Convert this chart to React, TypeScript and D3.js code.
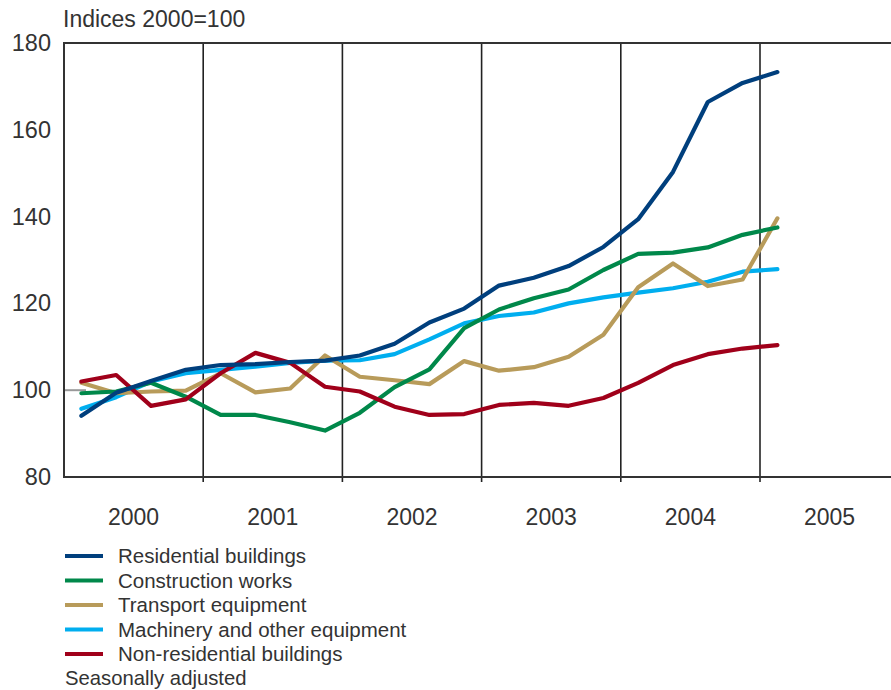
import React from "react";
import * as d3 from "d3";

const years = ["2000", "2001", "2002", "2003", "2004", "2005"];
const yTicks = [80, 100, 120, 140, 160, 180];

const residential = [94.1, 99.4, 102.1, 104.7, 105.8, 106.0, 106.5, 106.8, 108.0, 110.7, 115.6, 118.8, 124.1, 125.9, 128.6, 133.0, 139.4, 150.3, 166.4, 170.8, 173.3];
const construction = [99.3, 99.7, 101.7, 98.5, 94.3, 94.3, 92.6, 90.7, 94.8, 100.7, 104.8, 114.3, 118.6, 121.2, 123.2, 127.7, 131.4, 131.7, 132.9, 135.8, 137.5];
const transport = [101.7, 99.3, 99.7, 99.9, 103.9, 99.5, 100.4, 108.0, 103.1, 102.3, 101.4, 106.7, 104.5, 105.3, 107.7, 112.8, 123.7, 129.2, 124.0, 125.5, 139.6];
const machinery = [95.7, 98.4, 102.0, 103.9, 104.7, 105.4, 106.3, 106.8, 106.9, 108.3, 111.7, 115.4, 117.1, 117.9, 120.0, 121.4, 122.5, 123.5, 125.0, 127.3, 127.9];
const nonResidential = [102.0, 103.5, 96.4, 97.9, 103.9, 108.6, 106.3, 100.8, 99.7, 96.2, 94.3, 94.5, 96.6, 97.1, 96.4, 98.2, 101.7, 105.8, 108.3, 109.6, 110.4];

const seriesNames = ["Residential buildings", "Construction works", "Transport equipment", "Machinery and other equipment", "Non-residential buildings"];
const seriesColors = ["#003f7d", "#00884a", "#b89b5a", "#00aeef", "#a0001a"];
const seriesData = [residential, construction, transport, machinery, nonResidential];
// drawing order (back to front)
const drawOrder = [3, 2, 1, 4, 0];

const font = "'Liberation Sans', Arial, sans-serif";
const textColor = "#333";

export default function App() {
  const W = 891, H = 690;
  const left = 64, top = 43, bottom = 477;
  const yearW = 139.2;
  const x = d3.scaleLinear().domain([0, 6]).range([left, left + 6 * yearW]);
  const y = d3.scaleLinear().domain([80, 180]).range([bottom, top]);
  const qx = (i: number) => x((i + 0.5) / 4);
  const line = d3.line<number>().x((_, i) => qx(i)).y((d) => y(d)).curve(d3.curveLinear);

  return (
    <svg width={W} height={H} style={{ position: "absolute", left: 0, top: 0 }}>
      <rect width={W} height={H} fill="#fff" />
      <text x={63} y={27} fontFamily={font} fontSize={23} fill={textColor}>Indices 2000=100</text>
      {yTicks.map((t) => (
        <text key={t} x={51} y={y(t) + 8} textAnchor="end" fontFamily={font} fontSize={23.5} fill={textColor}>{t}</text>
      ))}
      {/* year separators */}
      {[1, 2, 3, 4, 5].map((k) => (
        <line key={k} x1={x(k)} x2={x(k)} y1={top} y2={bottom + 5} stroke="#222" strokeWidth={1.6} />
      ))}
      <line x1={left} x2={left + 22} y1={y(100)} y2={y(100)} stroke="#999" strokeWidth={2} />
      {drawOrder.map((si) => (
        <path key={si} d={line(seriesData[si]) || ""} fill="none" stroke={seriesColors[si]} strokeWidth={4.2} strokeLinejoin="round" strokeLinecap="round" />
      ))}
      {/* frame */}
      <line x1={left} x2={W} y1={top} y2={top} stroke="#333" strokeWidth={2} />
      <line x1={left} x2={W} y1={bottom} y2={bottom} stroke="#333" strokeWidth={2.2} />
      <line x1={left} x2={left} y1={top - 1} y2={bottom + 1} stroke="#333" strokeWidth={2} />
      {years.map((yr, i) => (
        <text key={yr} x={x(i + 0.5)} y={525} textAnchor="middle" fontFamily={font} fontSize={23} fill={textColor}>{yr}</text>
      ))}
      {seriesNames.map((n, i) => (
        <g key={n}>
          <line x1={65} x2={103} y1={556 + i * 24.5} y2={556 + i * 24.5} stroke={seriesColors[i]} strokeWidth={4} />
          <text x={118} y={563 + i * 24.5} fontFamily={font} fontSize={20.5} fill={textColor}>{n}</text>
        </g>
      ))}
      <text x={65} y={685} fontFamily={font} fontSize={20.3} fill={textColor}>Seasonally adjusted</text>
    </svg>
  );
}
